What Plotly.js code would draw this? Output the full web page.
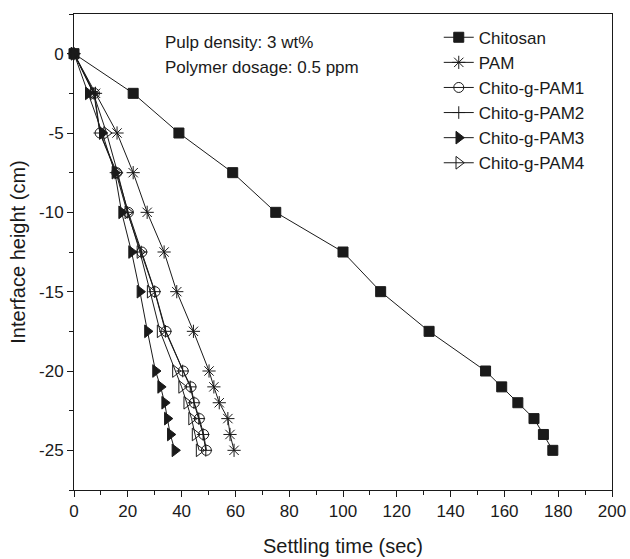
<!DOCTYPE html>
<html>
<head>
<meta charset="utf-8">
<script src="https://cdn.plot.ly/plotly-3.0.1.min.js"></script>
<style>html,body{margin:0;padding:0;background:#fff;}#chart{width:630px;height:559px;}</style>
</head>
<body>
<div id="chart"></div>
<script>
// Interface height levels (cm)
const heights = [0, -2.5, -5, -7.5, -10, -12.5, -15, -17.5, -20, -21, -22, -23, -24, -25];
// Settling times (sec) for each series
const chitosanT = [0, 22, 39, 59, 75, 100, 114, 132, 153, 159, 165, 171, 174.5, 178];
const pamT      = [0, 8, 16, 22, 27.2, 33.5, 38.2, 44.4, 50.2, 52, 54, 57.2, 58, 59.5];
const pam1T     = [0, 7.6, 9.7, 15.9, 20.2, 25.2, 30.1, 34.2, 40.6, 43.5, 44.7, 46.6, 48.2, 49.2];
const pam2T     = [0, 7.4, 9.6, 15.6, 19.8, 25.0, 30.0, 34.0, 40.4, 43.2, 44.6, 46.4, 48.0, 49.0];
const pam3T     = [0, 5.3, 10.5, 15.2, 17.7, 21.4, 24.5, 27.3, 30.3, 32.2, 33.7, 34.7, 35.8, 37.5];
const pam4T     = [0, 7.2, 12.1, 16.2, 20.0, 24.5, 28.3, 32.0, 37.7, 40.0, 41.9, 43.7, 45.0, 46.5];
const seriesNames = ['Chitosan', 'PAM', 'Chito-g-PAM1', 'Chito-g-PAM2', 'Chito-g-PAM3', 'Chito-g-PAM4'];
const xTickVals = [0, 20, 40, 60, 80, 100, 120, 140, 160, 180, 200];
const yTickVals = [0, -5, -10, -15, -20, -25];

const allT = [chitosanT, pamT, pam1T, pam2T, pam3T, pam4T];
const symbols = ['square', 'asterisk-open', 'circle-open', 'cross-thin-open', 'triangle-right', 'triangle-right-open'];
const sizes = [10, 11, 10, 9, 11, 11];

const traces = allT.map((t, i) => ({
  type: 'scatter',
  mode: 'lines+markers',
  name: seriesNames[i],
  x: t,
  y: heights,
  cliponaxis: false,
  line: {color: '#1a1a1a', width: 1},
  marker: {symbol: symbols[i], size: sizes[i], color: '#1a1a1a',
           line: {color: '#1a1a1a', width: 1}}
}));

const font = {family: 'Arial, "Liberation Sans", sans-serif', color: '#1a1a1a'};

const layout = {
  width: 630, height: 559,
  margin: {l: 74, r: 18, t: 14, b: 69},
  paper_bgcolor: '#fff', plot_bgcolor: '#fff',
  font: Object.assign({size: 17}, font),
  showlegend: true,
  legend: {x: 0.678, y: 0.988, xanchor: 'left', yanchor: 'top',
           bgcolor: 'rgba(0,0,0,0)', font: Object.assign({size: 17}, font),
           itemwidth: 30},
  xaxis: {
    range: [0, 200], tickvals: xTickVals, ticktext: xTickVals.map(String),
    ticks: 'outside', ticklen: 6, tickwidth: 1, tickcolor: '#1a1a1a',
    minor: {dtick: 10, ticks: 'outside', ticklen: 4, tickcolor: '#1a1a1a'},
    showline: true, linecolor: '#1a1a1a', linewidth: 1, mirror: true,
    showgrid: false, zeroline: false,
    tickfont: Object.assign({size: 17}, font),
    title: {text: 'Settling time (sec)', font: Object.assign({size: 20}, font), standoff: 18}
  },
  yaxis: {
    range: [-27.5, 2.5], tickvals: yTickVals, ticktext: yTickVals.map(String),
    ticks: 'outside', ticklen: 6, tickwidth: 1, tickcolor: '#1a1a1a',
    minor: {dtick: 2.5, ticks: 'outside', ticklen: 4, tickcolor: '#1a1a1a'},
    showline: true, linecolor: '#1a1a1a', linewidth: 1, mirror: true,
    showgrid: false, zeroline: false,
    tickfont: Object.assign({size: 17}, font),
    title: {text: 'Interface height (cm)', font: Object.assign({size: 20}, font), standoff: 8}
  },
  annotations: [
    {text: 'Pulp density: 3 wt%', xref: 'paper', yref: 'paper', x: 0.165, y: 0.941,
     xanchor: 'left', yanchor: 'middle', showarrow: false, font: Object.assign({size: 17}, font)},
    {text: 'Polymer dosage: 0.5 ppm', xref: 'paper', yref: 'paper', x: 0.165, y: 0.887,
     xanchor: 'left', yanchor: 'middle', showarrow: false, font: Object.assign({size: 17}, font)}
  ]
};

Plotly.newPlot('chart', traces, layout, {displayModeBar: false, staticPlot: true});
</script>
</body>
</html>
